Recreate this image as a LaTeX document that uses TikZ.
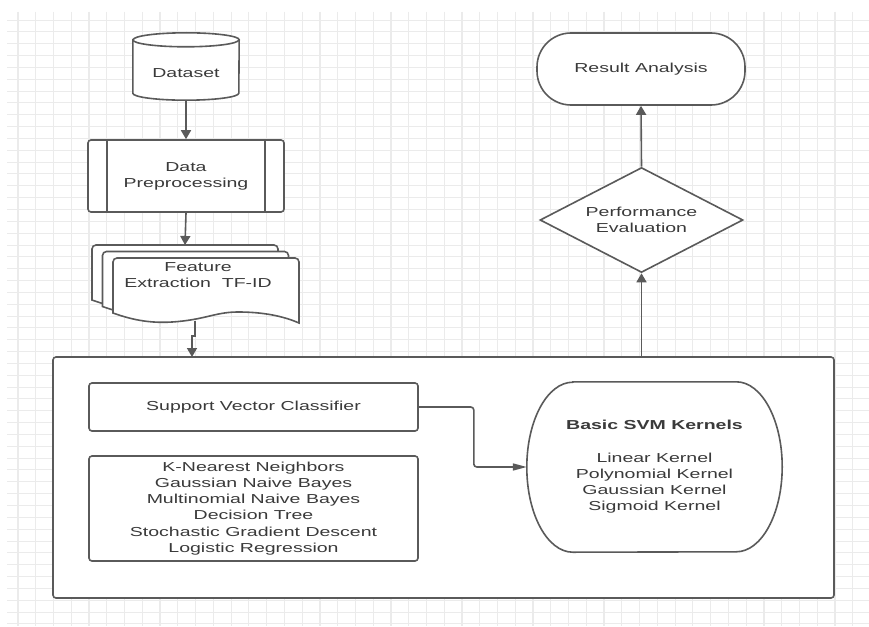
\documentclass[tikz,border=0pt]{standalone}
\usepackage{fontspec}
\setmainfont{Liberation Sans}[FakeStretch=1.5]
\usetikzlibrary{shapes.geometric,arrows.meta,calc}
\definecolor{ln}{HTML}{5A5A5A}
\definecolor{tx}{HTML}{3A3A3A}
\definecolor{gridc}{HTML}{EBEBEB}
\pgfdeclarelayer{gridlayer}
\pgfdeclarelayer{bg}
\pgfsetlayers{gridlayer,bg,main}
\begin{document}
\begin{tikzpicture}[x=1pt,y=-1pt,
  font=\fontsize{13}{16.2}\selectfont,
  shp/.style={draw=ln, line width=1.6pt, fill=white},
  box/.style={shp, rounded corners=3pt, text=tx, align=center, inner sep=0pt},
  plain/.style={inner sep=0pt, text=tx, align=center},
  arr/.style={draw=ln, line width=1.6pt, -{Triangle[length=9pt,width=10pt]}},
  harr/.style={draw=ln, line width=1.6pt, rounded corners=3pt, -{Triangle[length=14pt,width=7pt]}}]
\useasboundingbox (0,0) rectangle (869,626);
\begin{pgfonlayer}{gridlayer}
\fill[white] (0,0) rectangle (869,626);
\foreach \i in {0,...,47} \draw[gridc, line width=1.2pt] ({18+17.76*\i},12) -- ({18+17.76*\i},626);
\foreach \j in {0,...,51} \draw[gridc, line width=0.9pt] (7,{20+11.84*\j}) -- (869,{20+11.84*\j});
\end{pgfonlayer}

% Dataset (cylinder)
\node[plain, minimum width=106pt, minimum height=53pt] (ds) at (186,73.5) {Dataset};
\begin{pgfonlayer}{bg}
\path[shp] ([yshift=7pt]ds.north west) -- ([yshift=7pt]ds.south west)
  arc[start angle=180, end angle=360, x radius=53pt, y radius=7pt]
  -- ([yshift=7pt]ds.north east)
  arc[start angle=0, end angle=180, x radius=53pt, y radius=7pt] -- cycle;
\draw[draw=ln, line width=1.6pt] ([yshift=7pt]ds.north west)
  arc[start angle=180, end angle=360, x radius=53pt, y radius=7pt];
\end{pgfonlayer}

% Data Preprocessing
\node[box, minimum width=196pt, minimum height=72pt] (prep) at (186,176) {Data\\Preprocessing};
\draw[draw=ln, line width=1.6pt] ([xshift=20pt]prep.north west) -- ([xshift=20pt]prep.south west);
\draw[draw=ln, line width=1.6pt] ([xshift=-20pt]prep.north east) -- ([xshift=-20pt]prep.south east);

% Feature extraction (multi-document)
\begin{pgfonlayer}{bg}
\foreach \dx/\dy in {0/0, 10.5/6.5, 21/13}{
  \path[shp, shift={(92+\dx,245+\dy)}]
    (0,55) -- (0,4) [rounded corners=4pt] -- (0,0) -- (186,0) [sharp corners] -- (186,65)
    .. controls (170,58) and (150,54) .. (125,54)
    .. controls (105,54) and (95,60) .. (70,63)
    .. controls (45,66) and (25,64) .. (0,55) -- cycle;
}
\end{pgfonlayer}
\coordinate (featTop) at (185,245);
\coordinate (featBot) at (195,321);
\coordinate (cin) at (192,357);
\node[plain] (feat) at (198,275) {Feature\\Extraction~~TF-ID};

% Container and inner boxes
\begin{pgfonlayer}{bg}
\node[box, minimum width=781pt, minimum height=241pt] (cont) at (443.5,477.5) {};
\end{pgfonlayer}
\node[box, minimum width=329pt, minimum height=48pt] (svc) at (253.5,407) {Support Vector Classifier};
\node[box, minimum width=329pt, minimum height=105pt] (algs) at (253.5,508.5)
  {K-Nearest Neighbors\\Gaussian Naive Bayes\\Multinomial Naive Bayes\\Decision Tree\\Stochastic Gradient Descent\\Logistic Regression};

% Kernels
\node[plain, minimum width=255pt, minimum height=170pt] (kern) at (654.5,467)
  {\textbf{Basic SVM Kernels}\\[16.2pt]Linear Kernel\\Polynomial Kernel\\Gaussian Kernel\\Sigmoid Kernel};
\begin{pgfonlayer}{bg}
\path[shp] ([xshift=46pt]kern.north west) -- ([xshift=-46pt]kern.north east)
  arc[start angle=90, end angle=-90, x radius=46pt, y radius=85pt]
  -- ([xshift=46pt]kern.south west)
  arc[start angle=270, end angle=90, x radius=46pt, y radius=85pt] -- cycle;
\end{pgfonlayer}

% Performance and Result
\node[shp, diamond, aspect=2, minimum width=203pt, minimum height=105pt, inner sep=0pt, text=tx, align=center] (perf) at (641.5,220) {Performance\\Evaluation};
\node[box, rounded corners=34pt, minimum width=208pt, minimum height=72pt] (res) at (641,69) {Result Analysis};

% Connectors
\draw[arr] (ds.south) -- (prep.north);
\draw[arr] (prep.south) -- (featTop);
\draw[arr] (featBot) -- ++(0,15) -| (cin);
\draw[harr] (svc.east) -- ++(55,0) |- (kern.west);
\draw[arr] (cont.north -| perf.south) -- (perf.south);
\draw[arr] (perf.north) -- (res.south);
\end{tikzpicture}
\end{document}
